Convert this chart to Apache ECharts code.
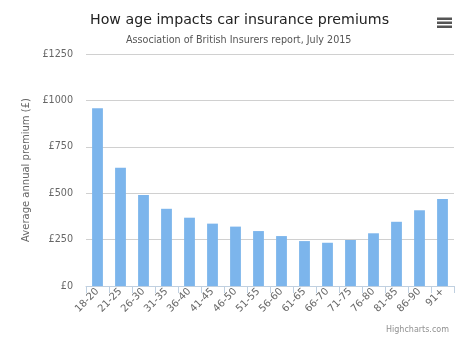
<!DOCTYPE html>
<html>
<head>
<meta charset="utf-8">
<style>
  html, body { margin: 0; padding: 0; background: #fff; }
  #chart { width: 467px; height: 343px; }
</style>
<script src="https://cdn.jsdelivr.net/npm/echarts@6/dist/echarts.min.js"></script>
</head>
<body>
<div id="chart"></div>
<script>
// Age bands and average annual premium (GBP)
const ageBands = ['18-20', '21-25', '26-30', '31-35', '36-40', '41-45', '46-50', '51-55',
                  '56-60', '61-65', '66-70', '71-75', '76-80', '81-85', '86-90', '91+'];
const premiums = [958, 637, 490, 416, 368, 336, 320, 296,
                  269, 242, 233, 248, 284, 346, 408, 469];
const yTicks = [0, 250, 500, 750, 1000, 1250];

const FONT = '"DejaVu Sans", Verdana, sans-serif';
const chart = echarts.init(document.getElementById('chart'), null, { renderer: 'canvas' });

chart.setOption({
  animation: false,
  backgroundColor: '#fff',
  title: [
    {
      text: 'How age impacts car insurance premiums',
      left: 85, top: 8,
      textStyle: { fontFamily: FONT, fontSize: 14.2, fontWeight: 'normal', color: '#222' }
    },
    {
      text: 'Association of British Insurers report, July 2015',
      left: 121, top: 30,
      textStyle: { fontFamily: FONT, fontSize: 9.6, fontWeight: 'normal', color: '#555' }
    },
    {
      text: 'Highcharts.com',
      right: 13, bottom: 4,
      textStyle: { fontFamily: FONT, fontSize: 8, fontWeight: 'normal', color: '#909090' }
    }
  ],
  graphic: [
    { type: 'rect', left: 437, top: 17.5, shape: { width: 15, height: 2.5 }, style: { fill: '#555' } },
    { type: 'rect', left: 437, top: 21.5, shape: { width: 15, height: 2.5 }, style: { fill: '#555' } },
    { type: 'rect', left: 437, top: 25.5, shape: { width: 15, height: 2.5 }, style: { fill: '#555' } }
  ],
  grid: { left: 86, right: 13, top: 54, bottom: 57, containLabel: false },
  xAxis: {
    type: 'category',
    data: ageBands,
    axisLine: { lineStyle: { color: '#C0D0E0', width: 1 } },
    axisTick: { show: true, length: 7, lineStyle: { color: '#C0D0E0' } },
    axisLabel: {
      rotate: 45, margin: 4, fontFamily: FONT, fontSize: 10, color: '#666'
    }
  },
  yAxis: {
    type: 'value',
    min: 0, max: 1250, interval: 250,
    name: 'Average annual premium (£)',
    nameLocation: 'middle', nameGap: 35, nameRotate: 90,
    nameTextStyle: { fontFamily: FONT, fontSize: 10, color: '#666' },
    axisLine: { show: false },
    axisTick: { show: false },
    splitLine: { lineStyle: { color: '#D0D0D0', width: 1 } },
    axisLabel: {
      margin: 13, fontFamily: FONT, fontSize: 9.6, color: '#666',
      formatter: v => yTicks.includes(v) ? '£' + v : ''
    }
  },
  series: [{
    type: 'bar',
    data: premiums,
    barWidth: '47%',
    itemStyle: { color: '#7cb5ec' }
  }]
});
</script>
</body>
</html>
